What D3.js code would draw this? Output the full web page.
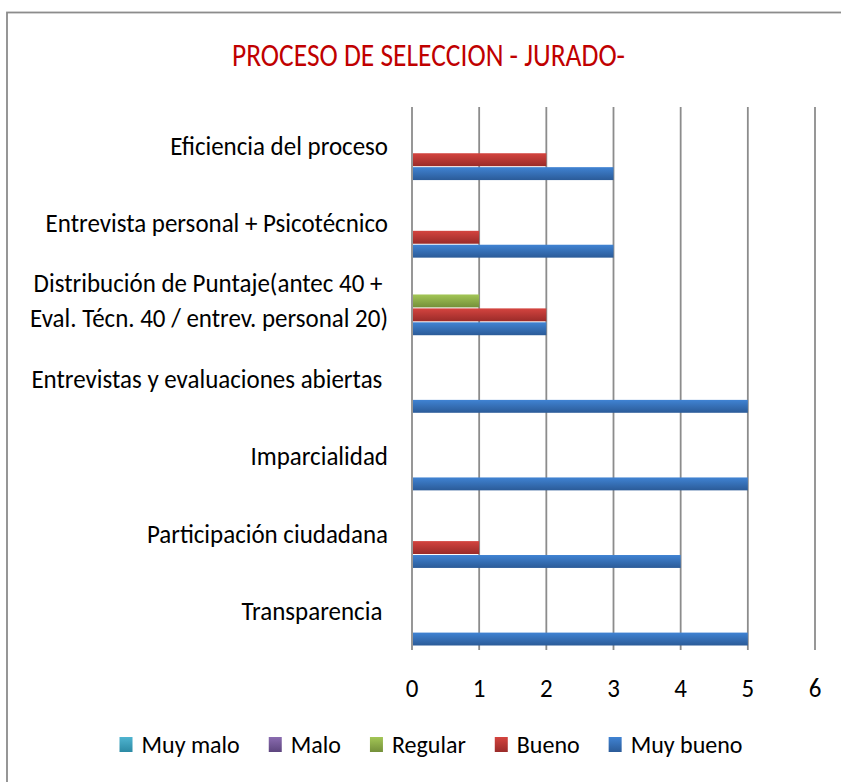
<!DOCTYPE html>
<html>
<head>
<meta charset="utf-8">
<script src="https://cdn.jsdelivr.net/npm/d3@7"></script>
<style>
  html, body { margin: 0; padding: 0; background: #fff; }
  svg text { font-family: Carlito, Lato, "Open Sans", sans-serif; fill: #000; white-space: pre; }
</style>
</head>
<body>
<svg id="chart" width="841" height="782"></svg>
<script>
const title = "PROCESO DE SELECCION - JURADO-";
const categories = [
  "Eficiencia del proceso",
  "Entrevista personal + Psicotécnico",
  "Distribución de Puntaje(antec 40 + \nEval. Técn. 40 / entrev. personal 20)",
  "Entrevistas y evaluaciones abiertas ",
  "Imparcialidad",
  "Participación ciudadana",
  "Transparencia "
];
const seriesNames = ["Muy malo", "Malo", "Regular", "Bueno", "Muy bueno"];
const muyMalo  = [0, 0, 0, 0, 0, 0, 0];
const malo     = [0, 0, 0, 0, 0, 0, 0];
const regular  = [0, 0, 1, 0, 0, 0, 0];
const bueno    = [2, 1, 2, 0, 0, 1, 0];
const muyBueno = [3, 3, 2, 5, 5, 4, 5];
const xTicks = [0, 1, 2, 3, 4, 5, 6];

const seriesValues = [muyMalo, malo, regular, bueno, muyBueno];
const seriesColors = [
  ["#4fb4d0", "#2c8aa4"],
  ["#8a6cb0", "#5d457e"],
  ["#a3c656", "#74903a"],
  ["#d4443f", "#9a2b29"],
  ["#4083d3", "#2b5b98"]
];

const svg = d3.select("#chart");
const defs = svg.append("defs");
seriesColors.forEach((c, i) => {
  const g = defs.append("linearGradient").attr("id", "grad" + i)
    .attr("x1", 0).attr("y1", 0).attr("x2", 0).attr("y2", 1);
  g.append("stop").attr("offset", "0%").attr("stop-color", c[0]);
  g.append("stop").attr("offset", "100%").attr("stop-color", c[1]);
});

// frame
svg.append("rect").attr("x", 7).attr("y", 12.5).attr("width", 900).attr("height", 900)
  .attr("fill", "#fff").attr("stroke", "#8c8c8c").attr("stroke-width", 1.8);

const x = d3.scaleLinear().domain([0, 6]).range([412, 815]);
const pInner = 0.103;
const y = d3.scaleBand().domain(categories).range([107, 650])
  .paddingInner(pInner).paddingOuter(pInner / 2);
const ySub = d3.scaleBand().domain(seriesNames).range([0, y.bandwidth()]);

const COND = 0.96;
function condense(sel, factor) {
  sel.each(function () {
    const w = this.getComputedTextLength();
    d3.select(this).attr("textLength", w * factor).attr("lengthAdjust", "spacingAndGlyphs");
  });
}

// title
const t = svg.append("text").attr("x", 428.5).attr("y", 66)
  .attr("text-anchor", "middle").style("font-size", "33px").style("fill", "#c00000")
  .text(title);
t.attr("textLength", 393).attr("lengthAdjust", "spacingAndGlyphs");

// gridlines
svg.append("g").selectAll("line").data(xTicks).join("line")
  .attr("x1", d => x(d)).attr("x2", d => x(d))
  .attr("y1", 107).attr("y2", 650)
  .attr("stroke", "#8c8c8c").attr("stroke-width", 1.8);

// x tick labels
const tickLabels = svg.append("g").selectAll("text").data(xTicks).join("text")
  .attr("x", d => x(d)).attr("y", 697)
  .attr("text-anchor", "middle").style("font-size", "26px")
  .text(d => d);
condense(tickLabels, COND);

// category labels
const catG = svg.append("g");
categories.forEach(c => {
  const lines = c.split("\n");
  const cy = y(c) + y.bandwidth() / 2;
  const lh = 35;
  lines.forEach((ln, i) => {
    const ty = cy + (i - (lines.length - 1) / 2) * lh + 9;
    const tx = catG.append("text").attr("x", 388).attr("y", ty)
      .attr("text-anchor", "end").style("font-size", "26px").text(ln);
    condense(tx, COND);
  });
});

// bars
const barsG = svg.append("g");
seriesNames.forEach((s, si) => {
  const vals = seriesValues[si];
  barsG.append("g").selectAll("rect")
    .data(categories.map((c, ci) => ({ c, v: vals[ci] })).filter(d => d.v > 0))
    .join("rect")
    .attr("x", x(0) + 1)
    .attr("y", d => y(d.c) + ySub(s) + 0.5)
    .attr("width", d => x(d.v) - x(0) - 1)
    .attr("height", ySub.bandwidth() - 1)
    .attr("fill", "url(#grad" + si + ")");
});

// legend
const legend = svg.append("g");
const legendY = 745;
let lx = 0;
seriesNames.forEach((s, si) => {
  const g = legend.append("g");
  g.append("rect").attr("x", lx).attr("y", legendY - 8).attr("width", 13).attr("height", 15)
    .attr("fill", "url(#grad" + si + ")");
  const tx = g.append("text").attr("x", lx + 22).attr("y", legendY + 8)
    .style("font-size", "24px").text(s);
  condense(tx, 1.0);
  const w = +tx.attr("textLength");
  lx += 22 + w + 29;
});
const totalW = lx - 29;
legend.attr("transform", `translate(${431 - totalW / 2},0)`);
</script>
</body>
</html>
